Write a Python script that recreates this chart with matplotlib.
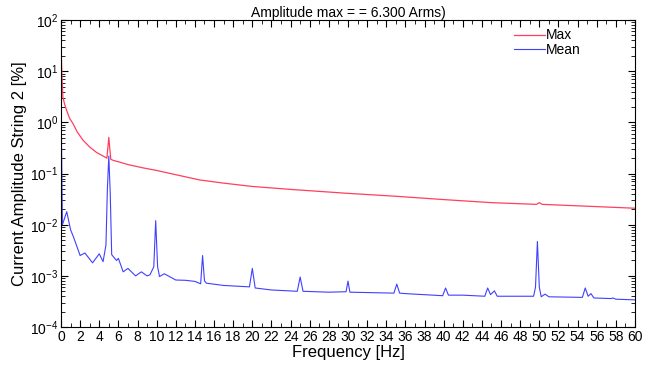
import matplotlib.pyplot as plt
from matplotlib.ticker import MultipleLocator, LogLocator, NullFormatter

plt.rcParams['font.family'] = ['Liberation Sans', 'DejaVu Sans']

# Max curve (red)
f_max = [0, 0.1, 0.2, 0.4, 0.6, 0.9, 1.25, 1.7, 2.3, 3.0, 3.7, 4.6, 4.8, 5.0, 5.2, 5.5,
         6, 7, 8.5, 10, 12, 14.5, 17, 20, 24, 30, 35, 40, 45, 49.7, 50.0, 50.3, 55, 60]
v_max = [35, 8, 3.1, 2.2, 1.7, 1.2, 0.95, 0.65, 0.45, 0.33, 0.26, 0.21, 0.2, 0.51, 0.19, 0.18,
         0.17, 0.15, 0.13, 0.115, 0.095, 0.075, 0.065, 0.056, 0.049, 0.041, 0.036, 0.031,
         0.027, 0.025, 0.027, 0.025, 0.023, 0.021]

# Mean curve (blue)
f_mean = [0, 0.05, 0.15, 0.6, 1.0, 1.3, 2.0, 2.5, 3.3, 4.0, 4.4, 4.7, 4.85, 5.0, 5.15, 5.3,
          5.8, 6.0, 6.5, 7.0, 7.8, 8.4, 9.0, 9.3, 9.7, 9.9, 10.1, 10.3, 10.8, 12, 13, 14, 14.6,
          14.8, 15.0, 15.2, 17, 19.7, 20.0, 20.3, 22, 24.7, 25.0, 25.3, 28, 29.8, 30.0, 30.2,
          34.8, 35.1, 35.4, 36, 39.9, 40.2, 40.5, 42, 44.3, 44.6, 44.9, 45.3, 45.6, 49.4, 49.6,
          49.8, 50.0, 50.2, 50.6, 51, 54.5, 54.8, 55.1, 55.4, 55.7, 57.5, 57.7, 58, 60]
v_mean = [12, 0.5, 0.01, 0.018, 0.008, 0.0058, 0.0025, 0.0028, 0.0018, 0.0027, 0.0019, 0.004, 0.05,
          0.22, 0.04, 0.0026, 0.002, 0.0022, 0.0012, 0.0014, 0.001, 0.0012, 0.001, 0.00105, 0.0015,
          0.012, 0.0015, 0.00097, 0.0011, 0.00083, 0.00082, 0.00078, 0.0007, 0.0025, 0.0008, 0.00072,
          0.00065, 0.00061, 0.0014, 0.00058, 0.00053, 0.0005, 0.00095, 0.0005, 0.00048, 0.00049,
          0.00079, 0.00048, 0.00046, 0.00069, 0.00046, 0.00045, 0.00041, 0.00058, 0.00042, 0.00042,
          0.0004, 0.00058, 0.00043, 0.00051, 0.0004, 0.0004, 0.0006, 0.0047, 0.0006, 0.00039,
          0.00044, 0.00039, 0.00038, 0.00058, 0.0004, 0.00045, 0.00037, 0.00036, 0.00037, 0.00035,
          0.00034]

fig = plt.figure(figsize=(6.6, 3.65), dpi=100)
ax = fig.add_axes([0.0924, 0.104, 0.8697, 0.841])

ax.plot(f_max, v_max, color='#ff3f5f', lw=0.9, label='Max')
ax.plot(f_mean, v_mean, color='#4040ff', lw=0.8, label='Mean')

ax.set_yscale('log')
ax.set_xlim(0, 60)
ax.set_ylim(1e-4, 1e2)
ax.xaxis.set_major_locator(MultipleLocator(2))
ax.xaxis.set_minor_locator(MultipleLocator(1))
ax.yaxis.set_major_locator(LogLocator(base=10, numticks=10))
ax.yaxis.set_minor_locator(LogLocator(base=10, subs=range(2, 10), numticks=20))
ax.yaxis.set_minor_formatter(NullFormatter())
ax.tick_params(which='both', direction='in', top=True, right=True, labelsize=10, pad=2)
ax.tick_params(which='major', length=5)
ax.tick_params(which='minor', length=3)
for s in ax.spines.values():
    s.set_linewidth(0.8)

ax.set_xlabel('Frequency [Hz]', fontsize=12, labelpad=1)
ax.set_ylabel('Current Amplitude String 2 [%]', fontsize=12, labelpad=2)
ax.set_title('Amplitude max = = 6.300 Arms)', fontsize=10, pad=2)
ax.legend(loc='upper right', frameon=False, fontsize=10, handlelength=2.2, handletextpad=0.1,
          labelspacing=0.05, borderaxespad=0.2, bbox_to_anchor=(0.92, 1.0))

fig.savefig('out.png', dpi=100)
